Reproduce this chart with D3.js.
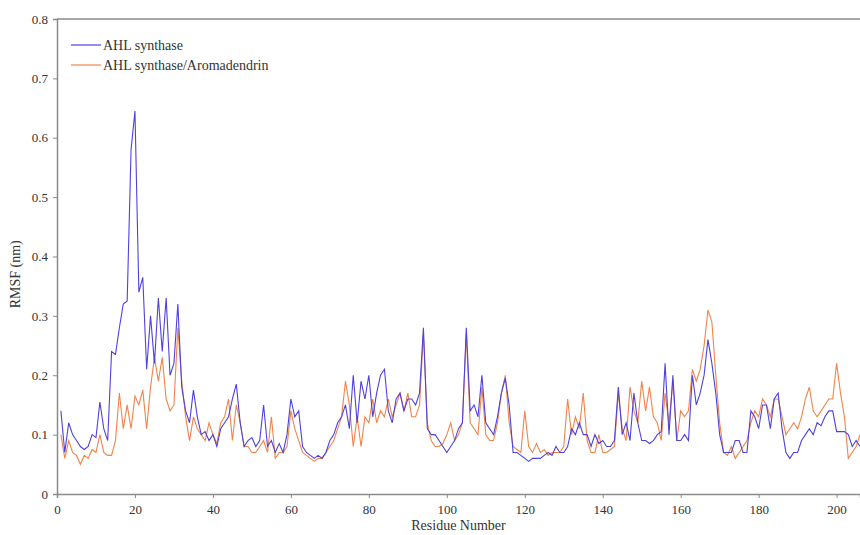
<!DOCTYPE html>
<html>
<head>
<meta charset="utf-8">
<script src="https://cdn.jsdelivr.net/npm/d3@7"></script>
<style>
  body { margin: 0; background: #fff; }
  svg { font-family: "Liberation Serif", "DejaVu Serif", serif; }
</style>
</head>
<body>
<svg id="chart" width="860" height="535"></svg>
<script>
// residue numbers 1..206
const residues = d3.range(1, 207)

// RMSF (nm), apo protein
const ahlSynthase = [
  0.14, 0.07, 0.12, 0.10, 0.09, 0.08, 0.075, 0.08, 0.10, 0.095,
  0.155, 0.11, 0.09, 0.24, 0.235, 0.28, 0.32, 0.325, 0.58, 0.645,
  0.34, 0.365, 0.21, 0.30, 0.22, 0.33, 0.24, 0.33, 0.20, 0.22,
  0.32, 0.18, 0.14, 0.12, 0.175, 0.13, 0.10, 0.105, 0.09, 0.10,
  0.08, 0.11, 0.12, 0.13, 0.16, 0.185, 0.12, 0.08, 0.09, 0.095,
  0.08, 0.09, 0.15, 0.08, 0.09, 0.07, 0.085, 0.07, 0.10, 0.16,
  0.13, 0.14, 0.08, 0.07, 0.065, 0.06, 0.065, 0.06, 0.07, 0.09,
  0.10, 0.12, 0.13, 0.15, 0.11, 0.20, 0.12, 0.19, 0.16, 0.20,
  0.13, 0.17, 0.20, 0.21, 0.14, 0.12, 0.16, 0.17, 0.14, 0.16,
  0.16, 0.15, 0.17, 0.28, 0.11, 0.10, 0.10, 0.09, 0.08, 0.07,
  0.08, 0.09, 0.11, 0.12, 0.28, 0.14, 0.15, 0.13, 0.20, 0.12,
  0.11, 0.10, 0.13, 0.17, 0.195, 0.15, 0.07, 0.07, 0.065, 0.06,
  0.055, 0.06, 0.06, 0.06, 0.065, 0.07, 0.065, 0.08, 0.07, 0.07,
  0.08, 0.11, 0.10, 0.12, 0.10, 0.10, 0.08, 0.10, 0.085, 0.09,
  0.08, 0.08, 0.09, 0.18, 0.10, 0.12, 0.09, 0.17, 0.12, 0.09,
  0.09, 0.085, 0.09, 0.10, 0.105, 0.22, 0.10, 0.20, 0.09, 0.09,
  0.10, 0.09, 0.20, 0.15, 0.17, 0.20, 0.26, 0.22, 0.17, 0.10,
  0.07, 0.07, 0.07, 0.09, 0.09, 0.07, 0.07, 0.14, 0.13, 0.11,
  0.15, 0.15, 0.11, 0.16, 0.17, 0.11, 0.07, 0.06, 0.07, 0.07,
  0.09, 0.10, 0.11, 0.10, 0.12, 0.115, 0.13, 0.14, 0.14, 0.105,
  0.105, 0.105, 0.10, 0.08, 0.09, 0.08
]

// RMSF (nm), complex with aromadendrin
const ahlAromadendrin = [
  0.10, 0.06, 0.09, 0.07, 0.065, 0.05, 0.065, 0.06, 0.075, 0.07,
  0.10, 0.07, 0.065, 0.065, 0.09, 0.17, 0.11, 0.15, 0.11, 0.165,
  0.15, 0.175, 0.11, 0.18, 0.23, 0.19, 0.23, 0.16, 0.14, 0.15,
  0.28, 0.19, 0.13, 0.09, 0.13, 0.11, 0.10, 0.09, 0.12, 0.10,
  0.085, 0.12, 0.13, 0.16, 0.09, 0.15, 0.12, 0.08, 0.08, 0.07,
  0.07, 0.08, 0.09, 0.07, 0.13, 0.06, 0.07, 0.07, 0.08, 0.14,
  0.11, 0.09, 0.07, 0.065, 0.06, 0.055, 0.06, 0.06, 0.07, 0.08,
  0.09, 0.11, 0.13, 0.19, 0.15, 0.08, 0.13, 0.08, 0.13, 0.12,
  0.16, 0.12, 0.14, 0.13, 0.16, 0.13, 0.15, 0.17, 0.14, 0.17,
  0.13, 0.13, 0.15, 0.27, 0.12, 0.09, 0.08, 0.08, 0.085, 0.10,
  0.12, 0.09, 0.10, 0.12, 0.27, 0.12, 0.11, 0.10, 0.18, 0.10,
  0.09, 0.09, 0.12, 0.17, 0.20, 0.12, 0.08, 0.075, 0.07, 0.14,
  0.08, 0.07, 0.085, 0.07, 0.075, 0.065, 0.07, 0.07, 0.07, 0.08,
  0.16, 0.10, 0.13, 0.11, 0.17, 0.09, 0.07, 0.07, 0.10, 0.07,
  0.07, 0.075, 0.08, 0.17, 0.11, 0.09, 0.18, 0.14, 0.12, 0.19,
  0.14, 0.18, 0.13, 0.12, 0.09, 0.17, 0.12, 0.19, 0.09, 0.14,
  0.13, 0.14, 0.21, 0.19, 0.21, 0.25, 0.31, 0.29, 0.20, 0.12,
  0.07, 0.065, 0.08, 0.06, 0.07, 0.08, 0.09, 0.12, 0.14, 0.13,
  0.16, 0.15, 0.13, 0.16, 0.16, 0.13, 0.10, 0.11, 0.12, 0.11,
  0.13, 0.16, 0.18, 0.14, 0.13, 0.14, 0.15, 0.16, 0.16, 0.22,
  0.17, 0.13, 0.06, 0.07, 0.08, 0.10
]

const xTicks = [0, 20, 40, 60, 80, 100, 120, 140, 160, 180, 200]
const yTicks = [0, 0.1, 0.2, 0.3, 0.4, 0.5, 0.6, 0.7, 0.8]

const seriesNames = ['AHL synthase', 'AHL synthase/Aromadendrin']
const seriesColors = ['#4e42dc', '#f0844a']

const margin = { top: 19, right: 0, bottom: 41, left: 57 }
const width = 860 - margin.left - margin.right
const height = 535 - margin.top - margin.bottom
const axisColor = '#8a8a8a'

const svg = d3.select('#chart')
const g = svg.append('g').attr('transform', `translate(${margin.left},${margin.top})`)

const x = d3.scaleLinear().domain([0, 206]).range([0, width])
const y = d3.scaleLinear().domain([0, 0.8]).range([height, 0])

// frame top line
g.append('line')
  .attr('x1', 0).attr('x2', width)
  .attr('y1', y(0.8)).attr('y2', y(0.8))
  .attr('stroke', axisColor).attr('stroke-width', 1.5)

// axes
const xAxis = g.append('g')
  .attr('transform', `translate(0,${height})`)
  .call(d3.axisBottom(x).tickValues(xTicks).tickSize(4).tickFormat(d3.format('d')))

const yAxis = g.append('g')
  .call(d3.axisLeft(y).tickValues(yTicks).tickSize(4).tickFormat((d) => (d === 0 ? '0' : d3.format('.1f')(d))))

;[xAxis, yAxis].forEach((a) => {
  a.select('.domain').attr('stroke', axisColor).attr('stroke-width', 1.5)
  a.selectAll('.tick line').attr('stroke', axisColor)
  a.selectAll('.tick text')
    .attr('fill', '#333')
    .style('font-family', '"Liberation Serif", serif')
    .style('font-size', '13px')
})
xAxis.selectAll('.tick text').attr('dy', '1.0em')
yAxis.selectAll('.tick text').attr('x', -9)

// lines
const line = d3.line()
  .x((d, i) => x(residues[i]))
  .y((d) => y(d))

const clip = g.append('clipPath').attr('id', 'clip')
clip.append('rect').attr('width', width).attr('height', height)

const plot = g.append('g').attr('clip-path', 'url(#clip)')

plot.append('path')
  .datum(ahlAromadendrin)
  .attr('fill', 'none')
  .attr('stroke', seriesColors[1])
  .attr('stroke-width', 1.1)
  .attr('d', line)

plot.append('path')
  .datum(ahlSynthase)
  .attr('fill', 'none')
  .attr('stroke', seriesColors[0])
  .attr('stroke-width', 1.1)
  .attr('d', line)

// legend
const legend = g.append('g').attr('transform', 'translate(14,26)')
seriesNames.forEach((name, i) => {
  const row = legend.append('g').attr('transform', `translate(0,${i * 20})`)
  row.append('line')
    .attr('x1', 0).attr('x2', 30)
    .attr('stroke', seriesColors[i]).attr('stroke-width', 1.2)
  row.append('text')
    .attr('x', 32).attr('dy', '0.35em')
    .attr('fill', '#333')
    .style('font-size', '14px')
    .text(name)
})

// axis titles
svg.append('text')
  .attr('x', margin.left + x(103))
  .attr('y', 530)
  .attr('text-anchor', 'middle')
  .attr('fill', '#333')
  .style('font-size', '14px')
  .text('Residue Number')

svg.append('text')
  .attr('transform', `translate(20,${margin.top + y(0.37)}) rotate(-90)`)
  .attr('text-anchor', 'middle')
  .attr('fill', '#333')
  .style('font-size', '14px')
  .text('RMSF (nm)')
</script>
</body>
</html>
